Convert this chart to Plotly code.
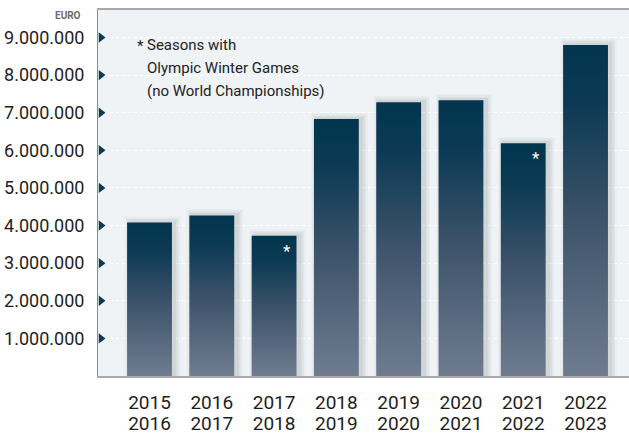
import plotly.graph_objects as go

season_start = ["2015", "2016", "2017", "2018", "2019", "2020", "2021", "2022"]
season_end = ["2016", "2017", "2018", "2019", "2020", "2021", "2022", "2023"]
prize_money = [4080000, 4270000, 3730000, 6830000, 7280000, 7330000, 6190000, 8800000]
olympic = [False, False, True, False, False, False, True, False]
y_ticks = [1000000, 2000000, 3000000, 4000000, 5000000, 6000000, 7000000, 8000000, 9000000]
y_ticktext = ["1.000.000", "2.000.000", "3.000.000", "4.000.000", "5.000.000",
              "6.000.000", "7.000.000", "8.000.000", "9.000.000"]
note_lines = ["Seasons with", "Olympic Winter Games", "(no World Championships)"]

FONT = "Roboto"
XFONT = "Liberation Sans Narrow, Roboto"
BAR_W = 0.72
X_RANGE = [-0.827, 7.698]
Y_RANGE = [0, 9730000]
PLOT_TOP = 10
PX_X = (X_RANGE[1] - X_RANGE[0]) / 531.0
PX_Y = (Y_RANGE[1] - Y_RANGE[0]) / 366.0


def y_at(px):
    return Y_RANGE[1] - (px - PLOT_TOP) * PX_Y


idx = list(range(len(season_start)))
fig = go.Figure()

# soft shadows (offset slightly to the right / up)
for k, a in [(6, 0.025), (4.5, 0.035), (3, 0.045), (1.5, 0.055)]:
    fig.add_trace(go.Bar(
        x=[i + 3 * PX_X for i in idx],
        y=[v + (k + 0.5) * PX_Y for v in prize_money],
        width=BAR_W + 2 * k * PX_X,
        marker=dict(color=f"rgba(40,50,60,{a})", line=dict(width=0)),
        hoverinfo="skip", showlegend=False))

# gradient bars
scale = [[0, "#6f7c90"], [0.5, "#3a5169"], [0.82, "#0c3a54"], [1, "#02354f"]]
for i, v in zip(idx, prize_money):
    x0, x1 = i - BAR_W / 2, i + BAR_W / 2
    fig.add_trace(go.Scatter(
        x=[x0, x1, x1, x0, x0], y=[0, 0, v, v, 0],
        mode="lines", fill="toself", line=dict(width=0),
        fillgradient=dict(type="vertical", colorscale=scale, start=0, stop=v),
        showlegend=False, hoverinfo="skip"))

# tick triangles
fig.add_trace(go.Scatter(
    x=[X_RANGE[0] + 3.0 * PX_X] * len(y_ticks), y=y_ticks, mode="markers",
    marker=dict(symbol="triangle-right", size=9, color="#0d3a52"),
    cliponaxis=False, showlegend=False, hoverinfo="skip"))
fig.add_trace(go.Scatter(
    x=idx, y=[-10 * PX_Y] * len(idx), mode="markers", xaxis="x2",
    marker=dict(symbol="triangle-up", size=9, color="#0d3a52"),
    cliponaxis=False, showlegend=False, hoverinfo="skip"))

# asterisks on Olympic seasons
for i, v, o in zip(idx, prize_money, olympic):
    if o:
        fig.add_annotation(x=i + 0.2, y=v - 15 * PX_Y, text="*", showarrow=False,
                           font=dict(family=FONT, size=17, color="white"))

fig.add_annotation(xref="paper", yref="y", x=-15 / 531, y=y_at(15), xanchor="right", yanchor="middle",
                   text="<b>EURO</b>", showarrow=False,
                   font=dict(family=FONT, size=10, color="#6a6a6a"))
fig.add_annotation(xref="x", yref="y", x=X_RANGE[0] + 37 * PX_X, y=y_at(46),
                   xanchor="left", yanchor="middle", showarrow=False,
                   text="*", font=dict(family=FONT, size=15, color="#222222"))
for line, py in zip(note_lines, [45, 68, 91]):
    fig.add_annotation(xref="x", yref="y", x=X_RANGE[0] + 47 * PX_X, y=y_at(py),
                       xanchor="left", yanchor="middle", showarrow=False,
                       text=line, font=dict(family=FONT, size=15, color="#222222"))

fig.update_layout(
    width=629, height=436,
    margin=dict(l=98, r=0, t=10, b=60, autoexpand=False),
    paper_bgcolor="white", plot_bgcolor="#eff3f6",
    barmode="overlay", bargap=0,
    showlegend=False,
    xaxis=dict(range=X_RANGE, tickvals=idx, ticktext=season_start, showgrid=False,
               zeroline=False, showline=True, linecolor="#a9a9a9", linewidth=2, mirror=True,
               ticks="outside", ticklen=8, tickcolor="rgba(0,0,0,0)", automargin=False,
               tickfont=dict(family=XFONT, size=19, color="#1e1e1e")),
    xaxis2=dict(range=X_RANGE, overlaying="x", anchor="y", side="bottom",
                tickvals=idx, ticktext=season_end, showgrid=False, zeroline=False,
                showline=False, ticks="outside", ticklen=30, tickcolor="rgba(0,0,0,0)",
                automargin=False,
                tickfont=dict(family=XFONT, size=19, color="#1e1e1e")),
    yaxis=dict(range=Y_RANGE, tickvals=y_ticks, ticktext=y_ticktext,
               showgrid=True, gridcolor="white", griddash="dot", gridwidth=1,
               zeroline=False, showline=True, linecolor="#8a8a8a", linewidth=1,
               ticks="outside", ticklen=9, tickcolor="rgba(0,0,0,0)", automargin=False,
               tickfont=dict(family=FONT, size=18, color="#1e1e1e")),
)

fig.write_html("out.html", config={"displayModeBar": False},
               post_script="document.body.style.margin='0px';document.body.style.overflow='hidden';")
